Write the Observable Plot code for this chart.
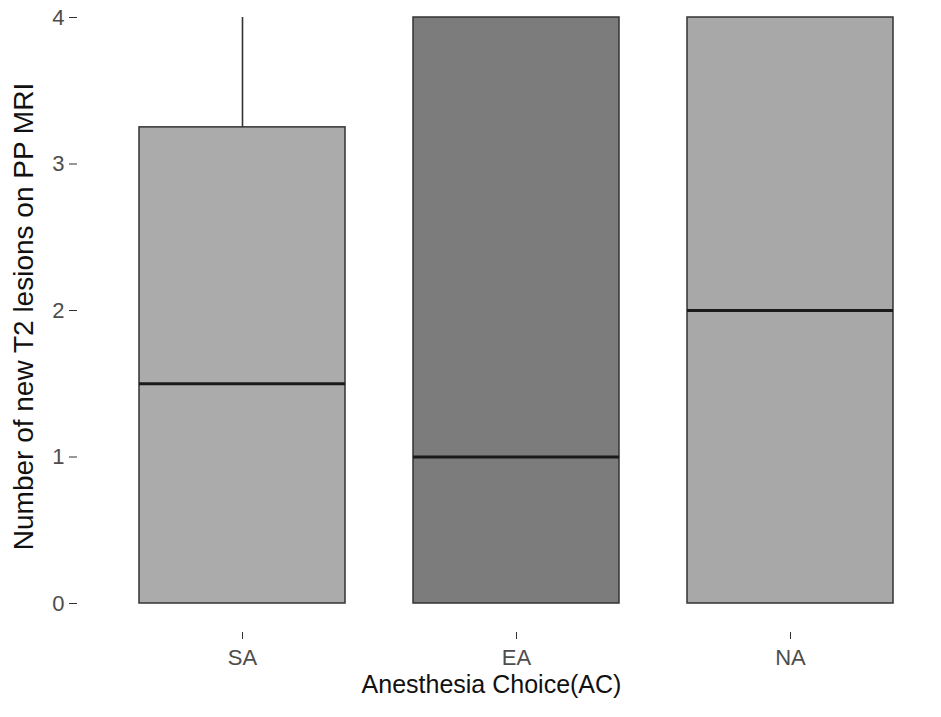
<!DOCTYPE html>
<html>
<head>
<meta charset="utf-8">
<script src="https://cdn.jsdelivr.net/npm/d3@7"></script>
<script src="https://cdn.jsdelivr.net/npm/@observablehq/plot@0.6"></script>
<style>
  html, body { margin: 0; padding: 0; background: #fff; }
  svg { font-family: "Liberation Sans", Arial, sans-serif; }
  g[aria-label="y-axis tick label"] text, g[aria-label="x-axis tick label"] text { fill: #4d4d4d; }
  g[aria-label="y-axis label"] text { font-size: 28px; fill: #111; }
</style>
</head>
<body>
<div id="chart"></div>
<script>
const categories = ["SA", "EA", "NA"];
const q1 = [0, 0, 0];
const median = [1.5, 1, 2];
const q3 = [3.25, 4, 4];
const whiskerLow = [0, 0, 0];
const whiskerHigh = [4, 4, 4];
const yTicks = [0, 1, 2, 3, 4];
const xTitle = "Anesthesia Choice(AC)";
const yTitle = "Number of new T2 lesions on PP MRI";

const chart = Plot.plot({
  width: 941,
  height: 717,
  marginLeft: 77,
  marginRight: 0,
  marginTop: 0,
  marginBottom: 85,
  style: { background: "#fff", fontFamily: "Liberation Sans, Arial, sans-serif" },
  x: { type: "band", domain: categories, range: [77, 954], paddingInner: 0.25, paddingOuter: 0.225, align: 0.5 },
  y: { domain: [-0.2, 4.2], range: [632.3, -12.3] },
  color: { domain: categories, range: ["#ababab", "#7c7c7c", "#a8a8a8"] },
  marks: [
    Plot.ruleX(categories, { x: categories, y1: q3, y2: whiskerHigh, stroke: "#333", strokeWidth: 1.6 }),
    Plot.ruleX(categories, { x: categories, y1: whiskerLow, y2: q1, stroke: "#333", strokeWidth: 1.6 }),
    Plot.barY(categories, { x: categories, y1: q1, y2: q3, fill: categories, stroke: "#333", strokeWidth: 1.5 }),
    Plot.tickY(categories, { x: categories, y: median, stroke: "#1a1a1a", strokeWidth: 2.8 }),
    Plot.axisY({ ticks: yTicks, tickFormat: "d", tickSize: 8, tickPadding: 5, fontSize: 22, stroke: "#333", label: yTitle, labelAnchor: "center", labelArrow: "none", labelOffset: 64 }),
    Plot.axisX({ tickSize: 7, tickPadding: 10, fontSize: 22, stroke: "#333", label: null }),
    Plot.text([xTitle], { text: d => d, frameAnchor: "bottom", dy: 60, dx: -18, fontSize: 25, fill: "#111" })
  ]
});
document.getElementById("chart").appendChild(chart);
</script>
</body>
</html>
